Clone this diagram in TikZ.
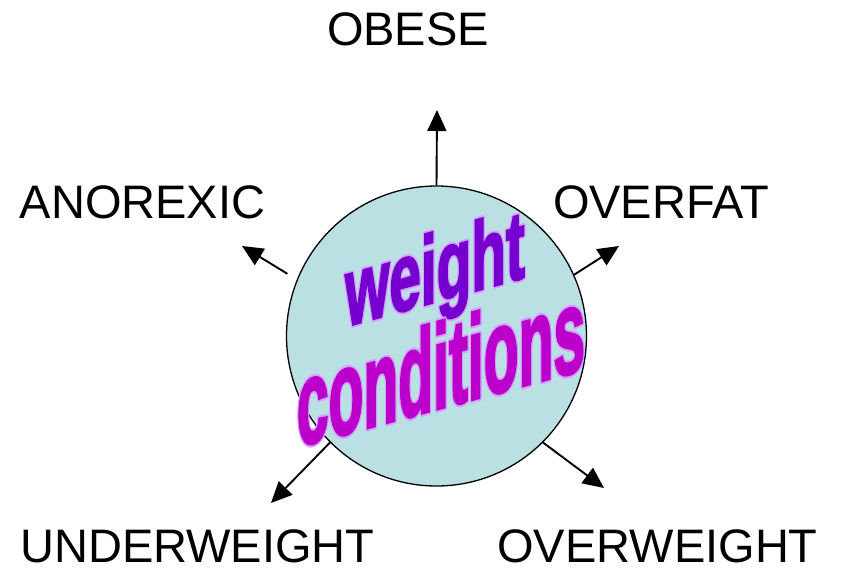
\documentclass[tikz,border=0pt]{standalone}
\usepackage{fontspec}
\setmainfont{Liberation Sans}
\usepackage{contour}
\usepackage{tikz}
\usetikzlibrary{arrows.meta}
\definecolor{ballfill}{RGB}{186,224,228}
\definecolor{wtviolet}{RGB}{118,0,208}
\definecolor{cdmagenta}{RGB}{188,0,204}
\definecolor{lilac}{RGB}{214,160,255}
\contourlength{1.6pt}

\begin{document}
\begin{tikzpicture}[x=1pt,y=-1pt]
  \tikzset{
    condition/.style={font=\fontsize{47}{50}\selectfont,inner sep=0pt,anchor=base},
    arr/.style={line width=1.9pt,-{Triangle[length=21pt,width=19pt]}},
    wordart/.style={font=\bfseries\addfontfeature{FakeBold=2.5}\fontsize{#1}{#1}\selectfont,inner sep=0pt,anchor=base,transform shape},
  }
  \useasboundingbox (0,0) rectangle (846,568);
  \node[circle,draw,line width=1.3pt,fill=ballfill,minimum size=300pt,inner sep=0pt] (wc) at (436.5,336) {};
  % end points of the arrows
  \coordinate (obese-tip) at (437,110);
  \coordinate (anorexic-tip) at (242,246);
  \coordinate (overfat-tip) at (619,246);
  \coordinate (under-tip) at (271,503);
  \coordinate (over-tip) at (604,488);
  \draw[arr] (wc.north) -- (obese-tip);
  \draw[arr,shorten <=11pt] (wc.158) -- (anorexic-tip);
  \draw[arr] (wc.24) -- (overfat-tip);
  \draw[arr] (wc.225) -- (under-tip);
  \draw[arr] (wc.315) -- (over-tip);
  \node[condition] (obese) at (408,45) {OBESE};
  \node[condition] (anorexic) at (142.5,218) {ANOREXIC};
  \node[condition] (overfat) at (661,218) {OVERFAT};
  \node[condition] (underweight) at (197.5,562) {UNDERWEIGHT};
  \node[condition] (overweight) at (657.5,562) {OVERWEIGHT};
  % slanted word art
  \begin{scope}[shift={(435,302)},cm={0.63,0.173,0,1.08,(0,0)}]
    \node[wordart=90,text=wtviolet] (weight) at (0,0) {\contour{lilac}{weight}};
  \end{scope}
  \begin{scope}[shift={(441,408)},cm={0.57,0.154,0,1.2,(0,0)}]
    \node[wordart=100,text=cdmagenta] (conditions) at (0,0) {\contour{lilac}{conditions}};
  \end{scope}
\end{tikzpicture}
\end{document}
